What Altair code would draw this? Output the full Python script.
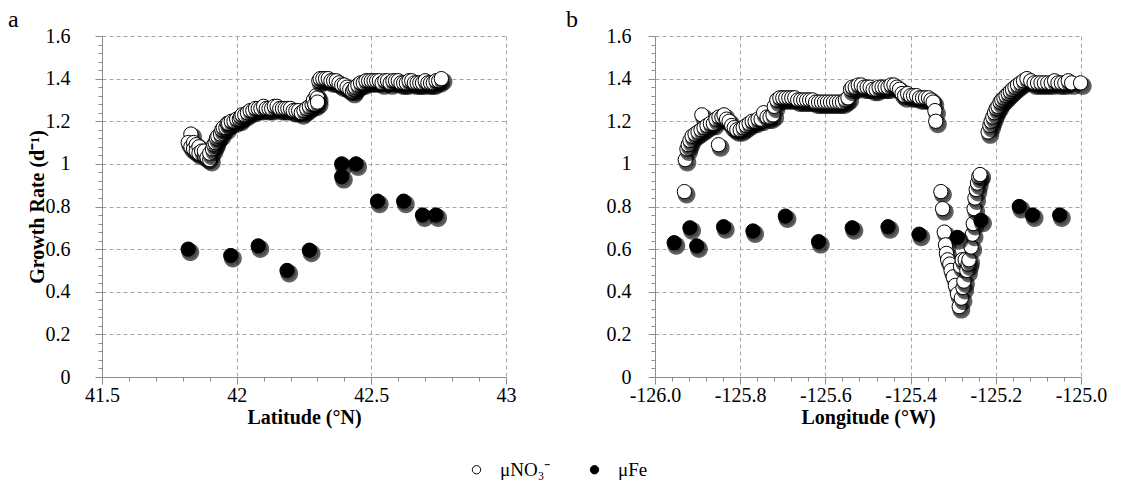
import altair as alt
import pandas as pd

SERIES = ["μNO₃⁻", "μFe"]

# ---- panel a : latitude (°N), growth rate (d-1)
NO3_A = [
    (41.83, 1.14), (41.82, 1.10), (41.83, 1.08), (41.84, 1.10), (41.84, 1.07), (41.85, 1.09),
    (41.85, 1.06), (41.86, 1.08), (41.86, 1.05), (41.87, 1.06), (41.88, 1.04), (41.88, 1.06),
    (41.89, 1.03), (41.90, 1.02), (41.90, 1.05), (41.91, 1.07), (41.915, 1.09), (41.92, 1.10),
    (41.925, 1.12), (41.93, 1.13), (41.94, 1.14), (41.945, 1.16), (41.95, 1.17), (41.96, 1.17),
    (41.965, 1.19), (41.97, 1.19), (41.98, 1.20), (41.99, 1.20), (42.00, 1.21), (42.01, 1.21),
    (42.015, 1.22), (42.02, 1.23), (42.03, 1.23), (42.04, 1.24), (42.05, 1.25), (42.06, 1.25),
    (42.07, 1.26), (42.08, 1.26), (42.09, 1.26), (42.10, 1.27), (42.11, 1.26), (42.12, 1.26),
    (42.13, 1.26), (42.14, 1.27), (42.15, 1.27), (42.16, 1.26), (42.17, 1.26), (42.18, 1.26),
    (42.19, 1.26), (42.20, 1.26), (42.21, 1.25), (42.22, 1.25), (42.23, 1.25), (42.24, 1.24),
    (42.25, 1.25), (42.26, 1.26), (42.27, 1.27), (42.28, 1.28), (42.285, 1.30), (42.29, 1.28),
    (42.295, 1.32), (42.30, 1.31), (42.30, 1.29), (42.305, 1.39), (42.31, 1.40), (42.32, 1.40),
    (42.33, 1.40), (42.34, 1.40), (42.35, 1.39), (42.36, 1.39), (42.37, 1.39), (42.38, 1.38),
    (42.39, 1.37), (42.40, 1.37), (42.41, 1.36), (42.42, 1.35), (42.43, 1.34), (42.435, 1.35),
    (42.44, 1.36), (42.45, 1.37), (42.46, 1.38), (42.47, 1.38), (42.48, 1.39), (42.49, 1.39),
    (42.50, 1.39), (42.51, 1.39), (42.52, 1.39), (42.53, 1.39), (42.54, 1.38), (42.55, 1.39),
    (42.56, 1.39), (42.57, 1.38), (42.58, 1.39), (42.59, 1.39), (42.60, 1.39), (42.61, 1.38),
    (42.62, 1.38), (42.63, 1.38), (42.64, 1.39), (42.65, 1.39), (42.66, 1.38), (42.67, 1.38),
    (42.68, 1.38), (42.69, 1.38), (42.70, 1.39), (42.71, 1.38), (42.72, 1.38), (42.73, 1.38),
    (42.74, 1.39), (42.75, 1.39), (42.76, 1.40),
]
FE_A = [
    (41.82, 0.60), (41.978, 0.57), (42.08, 0.615), (42.187, 0.50), (42.27, 0.595),
    (42.39, 1.00), (42.443, 1.00), (42.39, 0.94), (42.523, 0.825), (42.62, 0.825),
    (42.69, 0.76), (42.74, 0.76),
]

# ---- panel b : longitude (°W), growth rate (d-1)
NO3_B = [
    (-125.931, 0.87), (-125.929, 1.02), (-125.925, 1.07), (-125.922, 1.09), (-125.918, 1.11),
    (-125.913, 1.13), (-125.906, 1.14), (-125.899, 1.15), (-125.890, 1.23), (-125.892, 1.16),
    (-125.885, 1.17), (-125.878, 1.18), (-125.870, 1.19), (-125.863, 1.19), (-125.851, 1.09),
    (-125.857, 1.21), (-125.850, 1.22), (-125.843, 1.22), (-125.838, 1.23), (-125.832, 1.21),
    (-125.826, 1.20), (-125.820, 1.18), (-125.814, 1.17), (-125.808, 1.16), (-125.800, 1.16),
    (-125.793, 1.17), (-125.786, 1.18), (-125.779, 1.19), (-125.772, 1.20), (-125.765, 1.20),
    (-125.758, 1.21), (-125.751, 1.21), (-125.745, 1.24), (-125.737, 1.22), (-125.730, 1.22),
    (-125.723, 1.23), (-125.720, 1.27), (-125.714, 1.30), (-125.707, 1.31), (-125.700, 1.31),
    (-125.693, 1.31), (-125.686, 1.31), (-125.679, 1.31), (-125.672, 1.31), (-125.665, 1.30),
    (-125.658, 1.30), (-125.651, 1.30), (-125.644, 1.30), (-125.637, 1.30), (-125.630, 1.30),
    (-125.623, 1.29), (-125.616, 1.29), (-125.609, 1.29), (-125.602, 1.29), (-125.595, 1.29),
    (-125.588, 1.29), (-125.581, 1.29), (-125.574, 1.29), (-125.567, 1.29), (-125.560, 1.29),
    (-125.553, 1.30), (-125.547, 1.31), (-125.541, 1.35), (-125.537, 1.36), (-125.530, 1.36),
    (-125.523, 1.37), (-125.516, 1.37), (-125.509, 1.36), (-125.502, 1.36), (-125.495, 1.36),
    (-125.488, 1.35), (-125.481, 1.35), (-125.474, 1.36), (-125.467, 1.36), (-125.460, 1.36),
    (-125.453, 1.36), (-125.446, 1.37), (-125.439, 1.37), (-125.432, 1.36), (-125.426, 1.35),
    (-125.420, 1.33), (-125.414, 1.32), (-125.407, 1.33), (-125.400, 1.32), (-125.393, 1.32),
    (-125.386, 1.32), (-125.379, 1.31), (-125.372, 1.31), (-125.365, 1.31), (-125.358, 1.31),
    (-125.352, 1.30), (-125.347, 1.29), (-125.343, 1.25), (-125.341, 1.20),
    (-125.329, 0.87), (-125.325, 0.79), (-125.321, 0.68), (-125.318, 0.62), (-125.316, 0.58),
    (-125.313, 0.55), (-125.308, 0.53), (-125.305, 0.50), (-125.300, 0.47), (-125.295, 0.43),
    (-125.290, 0.39), (-125.286, 0.33), (-125.281, 0.37), (-125.277, 0.42), (-125.275, 0.45),
    (-125.283, 0.52), (-125.279, 0.55), (-125.272, 0.55), (-125.268, 0.50), (-125.265, 0.53),
    (-125.263, 0.55), (-125.258, 0.61), (-125.255, 0.67), (-125.253, 0.72), (-125.251, 0.79),
    (-125.249, 0.84), (-125.246, 0.88), (-125.243, 0.91), (-125.240, 0.94), (-125.237, 0.95),
    (-125.218, 1.15), (-125.214, 1.18), (-125.211, 1.20), (-125.207, 1.22), (-125.203, 1.24),
    (-125.199, 1.26), (-125.195, 1.27), (-125.190, 1.29), (-125.186, 1.30), (-125.181, 1.31),
    (-125.176, 1.32), (-125.171, 1.33), (-125.166, 1.34), (-125.161, 1.35), (-125.155, 1.36),
    (-125.149, 1.37), (-125.142, 1.38), (-125.135, 1.39), (-125.127, 1.40), (-125.118, 1.39),
    (-125.110, 1.38), (-125.102, 1.38), (-125.094, 1.38), (-125.086, 1.38), (-125.078, 1.38),
    (-125.070, 1.38), (-125.062, 1.39), (-125.054, 1.38), (-125.046, 1.38), (-125.038, 1.38),
    (-125.030, 1.39), (-125.022, 1.38), (-125.001, 1.38),
]
FE_B = [
    (-125.955, 0.63), (-125.918, 0.70), (-125.902, 0.615), (-125.839, 0.705), (-125.770, 0.685),
    (-125.694, 0.755), (-125.616, 0.635), (-125.537, 0.70), (-125.453, 0.705), (-125.380, 0.67),
    (-125.290, 0.655), (-125.235, 0.735), (-125.145, 0.80), (-125.114, 0.76), (-125.050, 0.76),
]

Y_MAJOR = [0, 0.2, 0.4, 0.6, 0.8, 1.0, 1.2, 1.4, 1.6]
LAT_MAJOR = [41.5, 42.0, 42.5, 43.0]
LON_MAJOR = [-126.0, -125.8, -125.6, -125.4, -125.2, -125.0]

FONT = "Liberation Serif"


def with_minor(major, n):
    out = []
    for a, b in zip(major[:-1], major[1:]):
        for i in range(n):
            out.append(round(a + (b - a) * i / n, 4))
    out.append(major[-1])
    return out


def circle_path(dx, dy, r):
    return (f"M{dx - r},{dy} A{r},{r} 0 1,0 {dx + r},{dy} "
            f"A{r},{r} 0 1,0 {dx - r},{dy} Z")


# soft drop shadow built from two offset discs drawn just before every point
ROLES = ["dot", "halo", "shade"]
ROLE_SHAPES = ["circle", circle_path(0.3, 0.42, 1.25), circle_path(0.22, 0.32, 1.04)]
ROLE_OPACITY = [1.0, 0.24, 0.58]


def table(no3, fe):
    rows = []
    for name, pts in ((SERIES[0], no3), (SERIES[1], fe)):
        for x, mu in pts:
            for role in ("halo", "shade", "dot"):
                rows.append({"x": x, "mu": mu, "series": name, "role": role})
    return pd.DataFrame(rows)


def major_test(step):
    return f"abs(datum.value / {step} - round(datum.value / {step})) < 1e-6"


def make_axis(values, step, title, fmt, label_pad, title_pad):
    t = major_test(step)
    kw = dict(
        values=values, format=fmt,
        labelExpr=f"({t}) ? replace(datum.label, '\u2212', '-') : ''",
        labelOverlap=False, labelFlush=False,
        grid=True, gridColor="#a6a6a6", gridDash=[4, 3], gridWidth=1,
        gridOpacity={"condition": {"test": t, "value": 1}, "value": 0},
        tickSize={"condition": {"test": t, "value": 7}, "value": 4},
        tickColor="#8c8c8c", tickWidth=1, domainColor="#8c8c8c", domainWidth=1,
        labelFont=FONT, labelFontSize=20, labelColor="black", labelPadding=label_pad,
        titleFont=FONT, titleFontSize=20, titleFontWeight="bold", titleColor="black",
        titlePadding=title_pad,
    )
    kw["title"] = title if title else None
    return alt.Axis(**kw)


LEGEND = alt.Legend(orient="none", legendX=365, legendY=424, direction="horizontal",
                    title=None, symbolType="circle", symbolSize=70,
                    symbolStrokeColor="black", symbolStrokeWidth=1, labelFont=FONT,
                    labelFontSize=19, labelColor="black", labelOffset=14, columnPadding=34)


def panel(no3, fe, xdomain, xmajor, xstep, xfmt, xtitle, ytitle, ylabel_pad, width,
          letter, letter_dx):
    df = table(no3, fe)
    x = alt.X("x:Q", scale=alt.Scale(domain=xdomain, nice=False, zero=False),
              axis=make_axis(with_minor(xmajor, 5), xstep, xtitle, xfmt, 1, 2))
    y = alt.Y("mu:Q", scale=alt.Scale(domain=[0, 1.6], nice=False, zero=True),
              axis=make_axis(with_minor(Y_MAJOR, 5), 0.2, ytitle, "~g", ylabel_pad, -2))
    is_dot = alt.datum.role == "dot"
    return alt.Chart(df).mark_point(filled=True, opacity=1, size=205, strokeWidth=1).encode(
        x=x,
        y=y,
        fill=alt.condition(
            is_dot,
            alt.Fill("series:N", scale=alt.Scale(domain=SERIES, range=["white", "black"]),
                     legend=LEGEND),
            alt.value("black"),
        ),
        fillOpacity=alt.FillOpacity("role:N", scale=alt.Scale(domain=ROLES, range=ROLE_OPACITY),
                                    legend=None),
        shape=alt.Shape("role:N", scale=alt.Scale(domain=ROLES, range=ROLE_SHAPES), legend=None),
        stroke=alt.condition(is_dot, alt.value("black"), alt.value("transparent")),
    ).properties(
        width=width, height=341,
        title=alt.TitleParams(letter, anchor="start", frame="group", dx=letter_dx, offset=-6,
                              font=FONT, fontSize=24, fontWeight="normal", color="black"),
    )


pa = panel(NO3_A, FE_A, [41.5, 43.0], LAT_MAJOR, 0.5, "~g", "Latitude (°N)",
           "Growth Rate (d⁻¹)", 25, 404, "a", -94)
pb = panel(NO3_B, FE_B, [-126.0, -125.0], LON_MAJOR, 0.2, ".1f", "Longitude (°W)",
           None, 17, 426, "b", -89)

chart = alt.hconcat(pa, pb, spacing=50).resolve_scale(
    x="independent", y="independent"
).properties(
    padding={"left": 0, "top": 0, "right": 0, "bottom": 50}, background="white"
).configure_view(stroke=None)

chart.save("out.html", embed_options={"renderer": "svg", "actions": False})
